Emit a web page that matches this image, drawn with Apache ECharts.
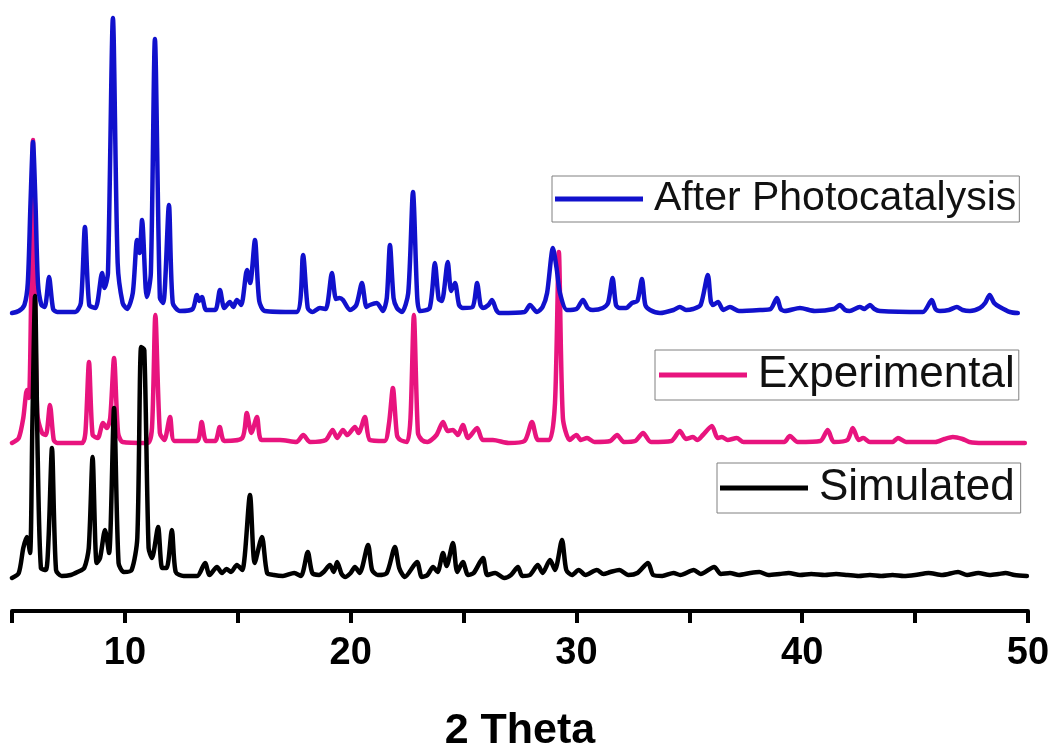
<!DOCTYPE html>
<html>
<head>
<meta charset="utf-8">
<script src="https://cdn.jsdelivr.net/npm/echarts@6/dist/echarts.min.js"></script>
<style>
html,body{margin:0;padding:0;background:#fff;}
#chart{width:1056px;height:752px;}
</style>
</head>
<body>
<div id="chart"></div>
<script>
// ---- data (2θ, intensity above the trace's own baseline) ----
const seriesNames = ['After Photocatalysis', 'Experimental', 'Simulated'];
const xTicks = [5, 10, 15, 20, 25, 30, 35, 40, 45, 50];

const afterPhoto = [
 [5.0,0],[5.3,2],[5.55,8],[5.7,30],[5.82,110],[5.93,171],[6.04,110],[6.15,30],[6.3,8],[6.45,6],[6.64,36],[6.82,4],[7.0,1],
 [7.8,1],[8.05,10],[8.23,86],[8.42,8],[8.7,5],[8.99,40],[9.1,25],[9.25,40],[9.47,295],[9.68,50],[9.9,10],[10.1,4],[10.35,20],
 [10.54,73],[10.65,60],[10.76,93],[10.92,25],[10.98,16],[11.15,40],[11.33,274],[11.55,15],[11.7,10],[11.95,108],[12.12,10],
 [12.44,2],[13.0,4],[13.19,18],[13.3,12],[13.41,16],[13.6,3],[14.0,3],[14.21,23],[14.4,5],[14.65,11],[14.8,6],[14.96,13],[15.15,8],
 [15.41,43],[15.55,30],[15.76,73],[15.95,12],[16.2,2],[17.6,1],[17.89,58],[18.1,5],[18.3,1],[18.64,5],[18.9,4],[19.17,40],[19.35,14],
 [19.5,15],[19.66,13],[19.97,3],[20.25,8],[20.5,30],[20.7,6],[20.85,8],[21.16,10],[21.43,2],[21.6,15],[21.74,68],[21.9,15],[22.05,5],
 [22.27,1],[22.55,20],[22.76,121],[22.95,15],[23.07,2],[23.5,5],[23.73,50],[23.9,14],[24.04,12],[24.3,51],[24.45,22],[24.62,30],[24.8,8],
 [24.97,5],[25.4,6],[25.6,30],[25.75,8],[25.86,5],[26.1,8],[26.26,13],[26.45,3],[26.6,0],[27.7,1],[27.94,8],[28.25,1],[28.5,6],
 [28.7,20],[28.96,65],[29.12,45],[29.27,20],[29.58,3],[30.0,4],[30.29,13],[30.5,5],[30.73,3],[31.17,5],[31.4,10],[31.6,35],[31.75,8],
 [31.9,5],[32.2,5],[32.46,10],[32.7,12],[32.9,34],[33.05,8],[33.26,3],[33.7,0],[34.3,3],[34.58,6],[34.85,3],[35.16,4],[35.5,8],
 [35.82,38],[35.95,12],[36.05,8],[36.27,11],[36.5,3],[36.8,6],[37.2,2],[38.13,3],[38.6,4],[38.88,15],[39.05,4],[39.23,2],[39.9,5],
 [40.56,2],[41.4,4],[41.67,8],[41.9,3],[42.1,2],[42.55,6],[42.75,4],[43.0,8],[43.2,4],[43.44,2],[45.34,1],[45.74,13],[45.9,4],[46.1,2],
 [46.5,3],[46.85,6],[47.1,3],[47.43,2],[47.87,5],[48.1,10],[48.3,18],[48.5,10],[48.75,6],[49.2,1],[49.55,0]
];

const experimental = [
 [5.0,0],[5.3,5],[5.5,25],[5.66,53],[5.75,45],[5.85,150],[5.93,303],[6.02,150],[6.12,30],[6.33,10],[6.5,8],[6.68,38],[6.85,3],[7.0,0],
 [8.1,0],[8.25,10],[8.41,81],[8.57,8],[8.8,5],[9.03,20],[9.2,15],[9.35,25],[9.52,85],[9.7,10],[9.9,1],[11.0,0],[11.2,15],[11.35,128],
 [11.55,10],[11.75,3],[12.0,26],[12.2,2],[13.2,2],[13.4,21],[13.6,2],[14.0,2],[14.2,16],[14.4,2],[15.2,5],[15.4,30],[15.6,10],[15.85,26],
 [16.05,3],[16.87,3],[17.6,1],[17.9,8],[18.2,1],[18.9,3],[19.2,13],[19.4,5],[19.66,13],[19.85,8],[20.19,16],[20.35,10],[20.63,26],
 [20.85,3],[21.5,2],[21.7,20],[21.87,55],[22.05,8],[22.2,3],[22.5,1],[22.65,25],[22.8,128],[22.98,10],[23.15,3],[23.4,1],[23.8,8],
 [24.09,21],[24.3,12],[24.53,13],[24.75,8],[24.97,18],[25.2,5],[25.6,15],[25.85,3],[26.3,3],[27.0,0],[27.7,2],[28.03,21],[28.3,3],
 [28.8,3],[29.05,40],[29.22,191],[29.4,25],[29.7,3],[30.0,8],[30.2,3],[30.47,5],[30.8,1],[31.5,2],[31.8,8],[32.1,1],[32.6,2],[32.95,10],
 [33.3,1],[34.2,2],[34.58,12],[34.85,4],[35.16,6],[35.35,3],[35.6,8],[36.0,17],[36.25,5],[36.44,6],[36.7,3],[37.1,5],[37.4,1],
 [39.2,1],[39.45,7],[39.8,1],[40.8,2],[41.13,13],[41.4,1],[42.0,3],[42.24,15],[42.5,3],[42.7,5],[43.0,1],[44.0,1],[44.24,5],[44.6,1],
 [45.9,1],[46.3,4],[46.67,6],[47.1,4],[47.4,1],[48.0,0],[49.86,0]
];

const simulated = [
 [5.0,0],[5.3,5],[5.5,30],[5.66,41],[5.8,25],[5.9,150],[6.02,282],[6.14,120],[6.28,10],[6.5,8],[6.62,40],[6.77,130],[6.95,8],
 [7.2,2],[7.6,3],[7.9,6],[8.2,10],[8.4,30],[8.57,121],[8.75,15],[8.9,20],[9.12,48],[9.3,25],[9.52,170],[9.72,15],[9.95,6],
 [10.3,8],[10.55,40],[10.72,231],[10.86,228],[11.05,30],[11.2,20],[11.47,51],[11.65,10],[11.85,10],[12.08,48],[12.25,6],[12.6,2],
 [13.2,2],[13.55,15],[13.75,3],[14.08,11],[14.3,5],[14.5,9],[14.7,6],[14.96,13],[15.2,8],[15.54,83],[15.75,15],[16.07,41],[16.3,5],
 [16.6,3],[17.0,2],[17.5,5],[17.8,2],[18.1,26],[18.3,5],[18.6,3],[18.8,6],[19.08,13],[19.25,6],[19.4,16],[19.6,4],[19.75,1],[20.0,5],
 [20.19,11],[20.4,5],[20.77,33],[20.95,8],[21.2,3],[21.6,5],[21.96,31],[22.15,10],[22.4,1],[22.94,16],[23.15,1],[23.4,3],[23.65,11],
 [23.85,6],[24.09,25],[24.25,12],[24.53,35],[24.72,6],[24.97,16],[25.2,3],[25.45,5],[25.86,20],[26.05,3],[26.4,5],[26.8,0],[27.1,3],
 [27.41,11],[27.6,2],[27.94,3],[28.29,13],[28.5,5],[28.83,18],[29.05,8],[29.36,38],[29.55,8],[29.8,3],[30.1,8],[30.4,3],[30.9,8],
 [31.2,4],[31.5,6],[31.9,8],[32.3,3],[32.7,5],[33.17,15],[33.4,3],[33.8,2],[34.3,5],[34.6,3],[35.2,8],[35.5,4],[36.1,11],[36.4,4],
 [36.8,5],[37.2,3],[37.7,5],[38.1,6],[38.5,3],[39.0,4],[39.4,5],[39.9,3],[40.4,4],[41.0,3],[41.5,4],[42.0,3],[42.5,2],[43.0,3],
 [43.5,2],[44.0,3],[44.5,2],[45.0,3],[45.6,5],[46.2,3],[46.9,6],[47.3,3],[47.8,5],[48.3,3],[48.7,4],[49.0,5],[49.4,3],[49.95,2]
];

// vertical stacking offsets (intensity units) of each trace
const offsetAfter = 298;
const offsetExperimental = 168;
const offsetSimulated = 33;

const colors = { after: '#1111CC', experimental: '#E8147E', simulated: '#000000' };

function shift(arr, off) { return arr.map(p => [p[0], p[1] + off]); }

const chart = echarts.init(document.getElementById('chart'), null, { renderer: 'canvas' });

function legendCfg(name, left, top, fontSize, lineH, pad) {
  return {
    data: [name],
    left: left, top: top,
    orient: 'horizontal',
    icon: 'rect',
    itemWidth: 88, itemHeight: 5,
    borderColor: '#808080', borderWidth: 1,
    padding: pad,
    selectedMode: false,
    textStyle: {
      fontFamily: 'Liberation Sans, Arial, sans-serif',
      fontSize: fontSize, color: '#111', lineHeight: lineH,
      padding: [0, 0, 0, 6]
    }
  };
}

function lineSeries(name, data, color) {
  return {
    name: name, type: 'line', showSymbol: false, symbol: 'none',
    data: data, smooth: 0.25,
    lineStyle: { color: color, width: 4.5, join: 'round', cap: 'round' },
    itemStyle: { color: color }
  };
}

const option = {
  backgroundColor: '#ffffff',
  animation: false,
  grid: { left: 12, right: 28, top: 11, bottom: 141, outerBoundsMode: 'none', containLabel: false },
  legend: [
    legendCfg(seriesNames[0], 552, 176, 41, 44, [1, 3, 1, 3]),
    legendCfg(seriesNames[1], 655, 350, 44, 48, [1, 4, 1, 4]),
    legendCfg(seriesNames[2], 717, 463, 44, 48, [1, 6, 1, 3])
  ],
  xAxis: {
    type: 'value',
    min: xTicks[0], max: xTicks[xTicks.length - 1], interval: 5,
    name: '2 Theta',
    nameLocation: 'middle',
    nameGap: 99,
    nameTextStyle: { fontFamily: 'Liberation Sans, Arial, sans-serif', fontWeight: 'bold', fontSize: 43, color: '#000' },
    axisLine: { show: true, onZero: false, lineStyle: { color: '#000', width: 4, cap: 'round' } },
    axisTick: { show: true, inside: false, length: 12, lineStyle: { color: '#000', width: 4 } },
    axisLabel: {
      margin: 24,
      fontFamily: 'Liberation Sans, Arial, sans-serif', fontWeight: 'bold', fontSize: 38, color: '#000',
      formatter: v => (v % 10 === 0 ? String(v) : '')
    },
    splitLine: { show: false }
  },
  yAxis: {
    type: 'value', min: 0, max: 600, show: false,
    splitLine: { show: false }
  },
  series: [
    lineSeries(seriesNames[1], shift(experimental, offsetExperimental), colors.experimental),
    lineSeries(seriesNames[2], shift(simulated, offsetSimulated), colors.simulated),
    lineSeries(seriesNames[0], shift(afterPhoto, offsetAfter), colors.after)
  ]
};

chart.setOption(option);
</script>
</body>
</html>
